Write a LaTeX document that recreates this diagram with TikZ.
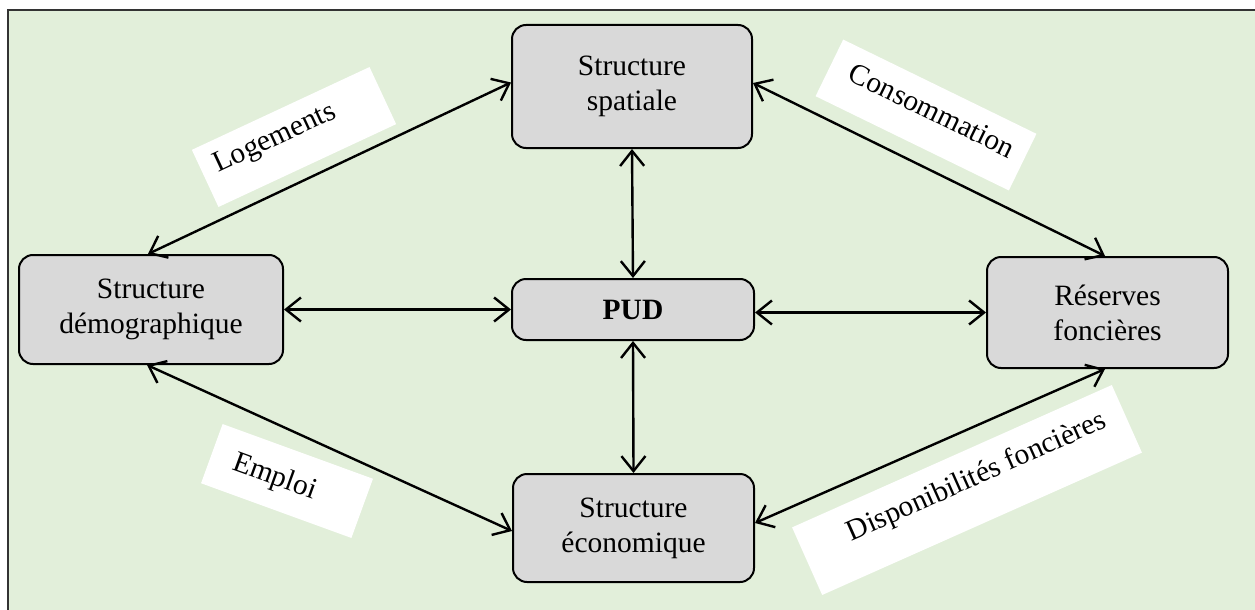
\documentclass[tikz,border=0pt]{standalone}
\usepackage{fontspec}
\setmainfont{Liberation Serif}
\usetikzlibrary{arrows.meta}
\definecolor{bggreen}{HTML}{E2EFDA}
\definecolor{boxgray}{HTML}{D9D9D9}
\definecolor{framecol}{HTML}{333333}
\tikzset{
  blockbox/.style={draw=black, line width=2pt, fill=boxgray, rounded corners=14pt,
    align=center, inner sep=0pt, font=\fontsize{29.5}{35}\selectfont},
  labelbox/.style={fill=white, draw=none, inner sep=0pt},
  labeltext/.style={font=\fontsize{29.5}{35}\selectfont, inner sep=0pt, anchor=base},
  link/.style={line width=2.4pt, {Straight Barb[length=15pt,width=24pt]}-{Straight Barb[length=15pt,width=24pt]}}
}
\begin{document}
\begin{tikzpicture}[x=1pt,y=-1pt]
\useasboundingbox (0,0) rectangle (1255,610);
\fill[bggreen] (8,10) rectangle (1255,610);
\draw[framecol, line width=2pt] (8,610) -- (8,10) -- (1255,10);

% label boxes
\node[labelbox, rotate=25, minimum width=196pt, minimum height=63pt] (lbA) at (294,137) {};
\node[labeltext, rotate=25] (ltA) at (278,145) {Logements};
\node[labelbox, rotate=-26, minimum width=215pt, minimum height=63pt] (lbB) at (926,115) {};
\node[labeltext, rotate=-26] (ltB) at (928,119) {Consommation};
\node[labelbox, rotate=-20, minimum width=160pt, minimum height=63pt] (lbC) at (287,481) {};
\node[labeltext, rotate=-20] (ltC) at (272,484) {Emploi};
\node[labelbox, rotate=24, minimum width=350pt, minimum height=74pt] (lbD) at (967,490) {};
\node[labeltext, rotate=24] (ltD) at (980,484) {Disponibilités foncières};

% blocks
\node[blockbox, minimum width=240pt, minimum height=123pt] (spa) at (632,86.5) {Structure\\spatiale};
\node[blockbox, minimum width=242pt, minimum height=61pt, font=\fontsize{29.5}{35}\selectfont\bfseries] (pud) at (633,309.5) {PUD};
\node[blockbox, minimum width=264pt, minimum height=109pt] (dem) at (151,309.5) {Structure\\démographique};
\node[blockbox, minimum width=241pt, minimum height=111pt] (res) at (1107.5,312.5) {Réserves\\foncières};
\node[blockbox, minimum width=241pt, minimum height=108pt] (eco) at (633.5,528) {Structure\\économique};

% connectors
\draw[link] (spa.south) -- (pud.north);
\draw[link] (pud.south) -- (eco.north);
\draw[link] (dem.east) -- (pud.west);
\draw[link] ([yshift=-3pt]pud.east) -- (res.west);
\draw[link] ([xshift=-3pt]dem.north) -- ([yshift=4pt]spa.west);
\draw[link] ([yshift=3.5pt]spa.east) -- ([xshift=-2.5pt]res.north);
\draw[link] ([xshift=-4pt]dem.south) -- ([yshift=-3pt]eco.west);
\draw[link] ([yshift=5pt]eco.east) -- ([xshift=-2.5pt]res.south);
\end{tikzpicture}
\end{document}
